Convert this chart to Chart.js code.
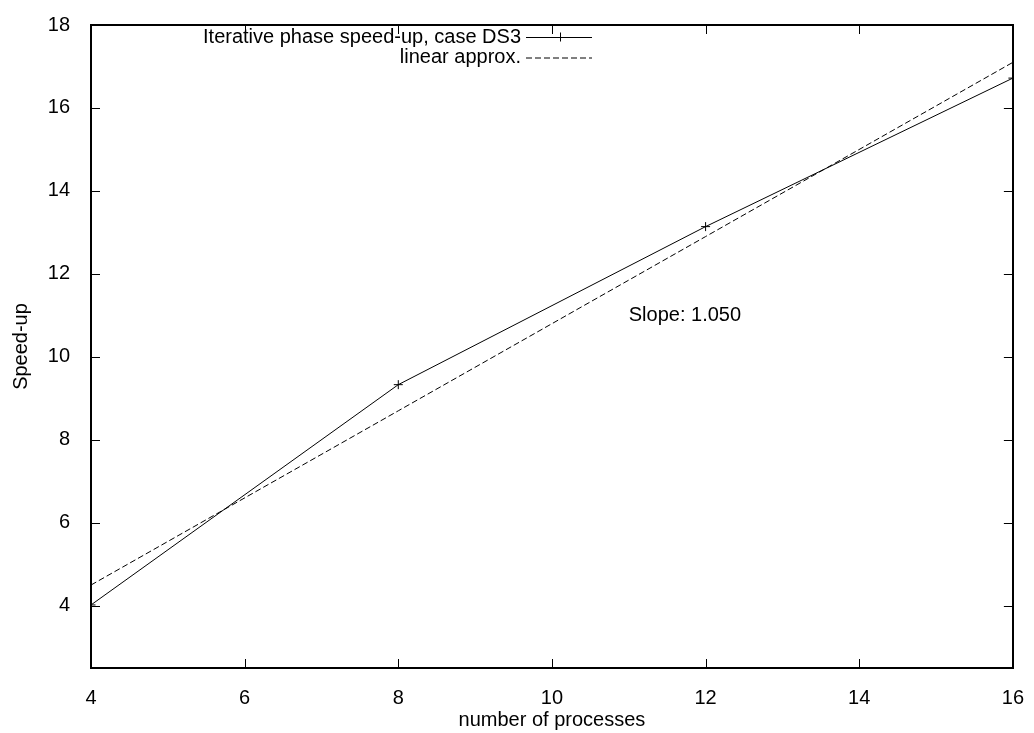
<!DOCTYPE html>
<html>
<head>
<meta charset="utf-8">
<title>Speed-up</title>
<script src="https://cdn.jsdelivr.net/npm/chart.js@4.4.0/dist/chart.umd.min.js"></script>
<style>
  html, body { margin: 0; padding: 0; background: #fff; }
  #wrap { width: 1034px; height: 733px; }
</style>
</head>
<body>
<div id="wrap"><canvas id="speedChart" width="1034" height="733"></canvas></div>
<script>
// data
const processes = [4, 8, 12, 16];
const speedup = [4.02, 9.33, 13.14, 16.72];
const linearApprox = [4.5, 8.7, 12.9, 17.1];
const xTicks = [4, 6, 8, 10, 12, 14, 16];
const yTicks = [4, 6, 8, 10, 12, 14, 16, 18];
const seriesLabels = ['Iterative phase speed-up, case DS3', 'linear approx.'];
const slopeText = 'Slope: 1.050';
const slopePos = [11, 11];

const FONT = "'Liberation Sans', Arial, sans-serif";

// gnuplot style frame with inward ticks on all sides
const framePlugin = {
  id: 'frame',
  afterDraw(chart) {
    const ctx = chart.ctx;
    const a = chart.chartArea;
    const xs = chart.scales.x, ys = chart.scales.y;
    const len = 9;
    ctx.save();
    ctx.strokeStyle = '#000';
    ctx.lineWidth = 2;
    ctx.strokeRect(Math.round(a.left), Math.round(a.top), Math.round(a.right - a.left), Math.round(a.bottom - a.top));
    ctx.lineWidth = 1;
    ctx.beginPath();
    xTicks.forEach(v => {
      const px = Math.round(xs.getPixelForValue(v)) + 0.5;
      ctx.moveTo(px, a.bottom); ctx.lineTo(px, a.bottom - len);
      ctx.moveTo(px, a.top); ctx.lineTo(px, a.top + len);
    });
    yTicks.forEach(v => {
      const py = Math.round(ys.getPixelForValue(v)) + 0.5;
      ctx.moveTo(a.left, py); ctx.lineTo(a.left + len, py);
      ctx.moveTo(a.right, py); ctx.lineTo(a.right - len, py);
    });
    ctx.stroke();
    ctx.restore();
  }
};

// key in the top left, text right-aligned with a line sample after it
const keyPlugin = {
  id: 'key',
  afterDatasetsDraw(chart) {
    const ctx = chart.ctx;
    const rows = [37, 57.5];
    const textRight = 521, x0 = 526, x1 = 592;
    ctx.save();
    ctx.font = '20px ' + FONT;
    ctx.fillStyle = '#000';
    ctx.textAlign = 'right';
    ctx.textBaseline = 'middle';
    chart.data.datasets.forEach((ds, i) => {
      const y = rows[i];
      ctx.fillText(ds.label, textRight, y);
      ctx.strokeStyle = ds.borderColor;
      ctx.lineWidth = ds.borderWidth;
      ctx.setLineDash(ds.borderDash || []);
      ctx.beginPath();
      ctx.moveTo(x0, y + 0.5); ctx.lineTo(x1, y + 0.5);
      ctx.stroke();
      ctx.setLineDash([]);
      if (ds.pointRadius > 0) {
        const cx = 560;
        const r = ds.pointRadius;
        ctx.beginPath();
        ctx.moveTo(cx - r, y + 0.5); ctx.lineTo(cx + r, y + 0.5);
        ctx.moveTo(cx + 0.5, y - r); ctx.lineTo(cx + 0.5, y + r);
        ctx.stroke();
      }
    });
    ctx.restore();
  }
};

// slope label inside the plot
const slopePlugin = {
  id: 'slope',
  afterDatasetsDraw(chart) {
    const ctx = chart.ctx;
    ctx.save();
    ctx.font = '20px ' + FONT;
    ctx.fillStyle = '#000';
    ctx.textAlign = 'left';
    ctx.textBaseline = 'middle';
    ctx.fillText(slopeText, chart.scales.x.getPixelForValue(slopePos[0]), chart.scales.y.getPixelForValue(slopePos[1]));
    ctx.restore();
  }
};

const ctx = document.getElementById('speedChart').getContext('2d');

const chart = new Chart(ctx, {
  type: 'line',
  data: {
    datasets: [{
      label: seriesLabels[0],
      data: processes.map((p, i) => ({ x: p, y: speedup[i] })),
      borderColor: '#000',
      borderWidth: 1,
      pointStyle: 'cross',
      pointRadius: 4.5,
      pointBorderColor: '#000',
      pointBorderWidth: 1,
      tension: 0,
      fill: false
    }, {
      label: seriesLabels[1],
      data: processes.map((p, i) => ({ x: p, y: linearApprox[i] })),
      borderColor: '#000',
      borderWidth: 1,
      borderDash: [6, 3],
      pointRadius: 0,
      tension: 0,
      fill: false
    }]
  },
  options: {
    responsive: false,
    devicePixelRatio: 1,
    animation: false,
    layout: {
      padding: { top: 18, right: 17, left: 0, bottom: 0 }
    },
    scales: {
      x: {
        type: 'linear',
        min: 4,
        max: 16,
        grid: { display: false },
        border: { display: false },
        afterBuildTicks: scale => { scale.ticks = xTicks.map(v => ({ value: v })); },
        afterFit: scale => { scale.height = 65; },
        ticks: {
          padding: 10,
          color: '#000',
          font: { family: FONT, size: 20 }
        },
        title: {
          display: true,
          text: 'number of processes',
          color: '#000',
          padding: { top: 0, bottom: 2 },
          font: { family: FONT, size: 20, lineHeight: 1.1 }
        }
      },
      y: {
        type: 'linear',
        min: 2.5,
        max: 18,
        grid: { display: false },
        border: { display: false },
        afterBuildTicks: scale => { scale.ticks = yTicks.map(v => ({ value: v })); },
        afterFit: scale => { scale.width = 91; },
        ticks: {
          padding: 13,
          color: '#000',
          font: { family: FONT, size: 20 }
        },
        title: {
          display: true,
          text: 'Speed-up',
          color: '#000',
          padding: { top: 10, bottom: 0 },
          font: { family: FONT, size: 20, lineHeight: 1.1 }
        }
      }
    },
    plugins: {
      legend: { display: false },
      tooltip: { enabled: false }
    }
  },
  plugins: [framePlugin, keyPlugin, slopePlugin]
});
</script>
</body>
</html>
